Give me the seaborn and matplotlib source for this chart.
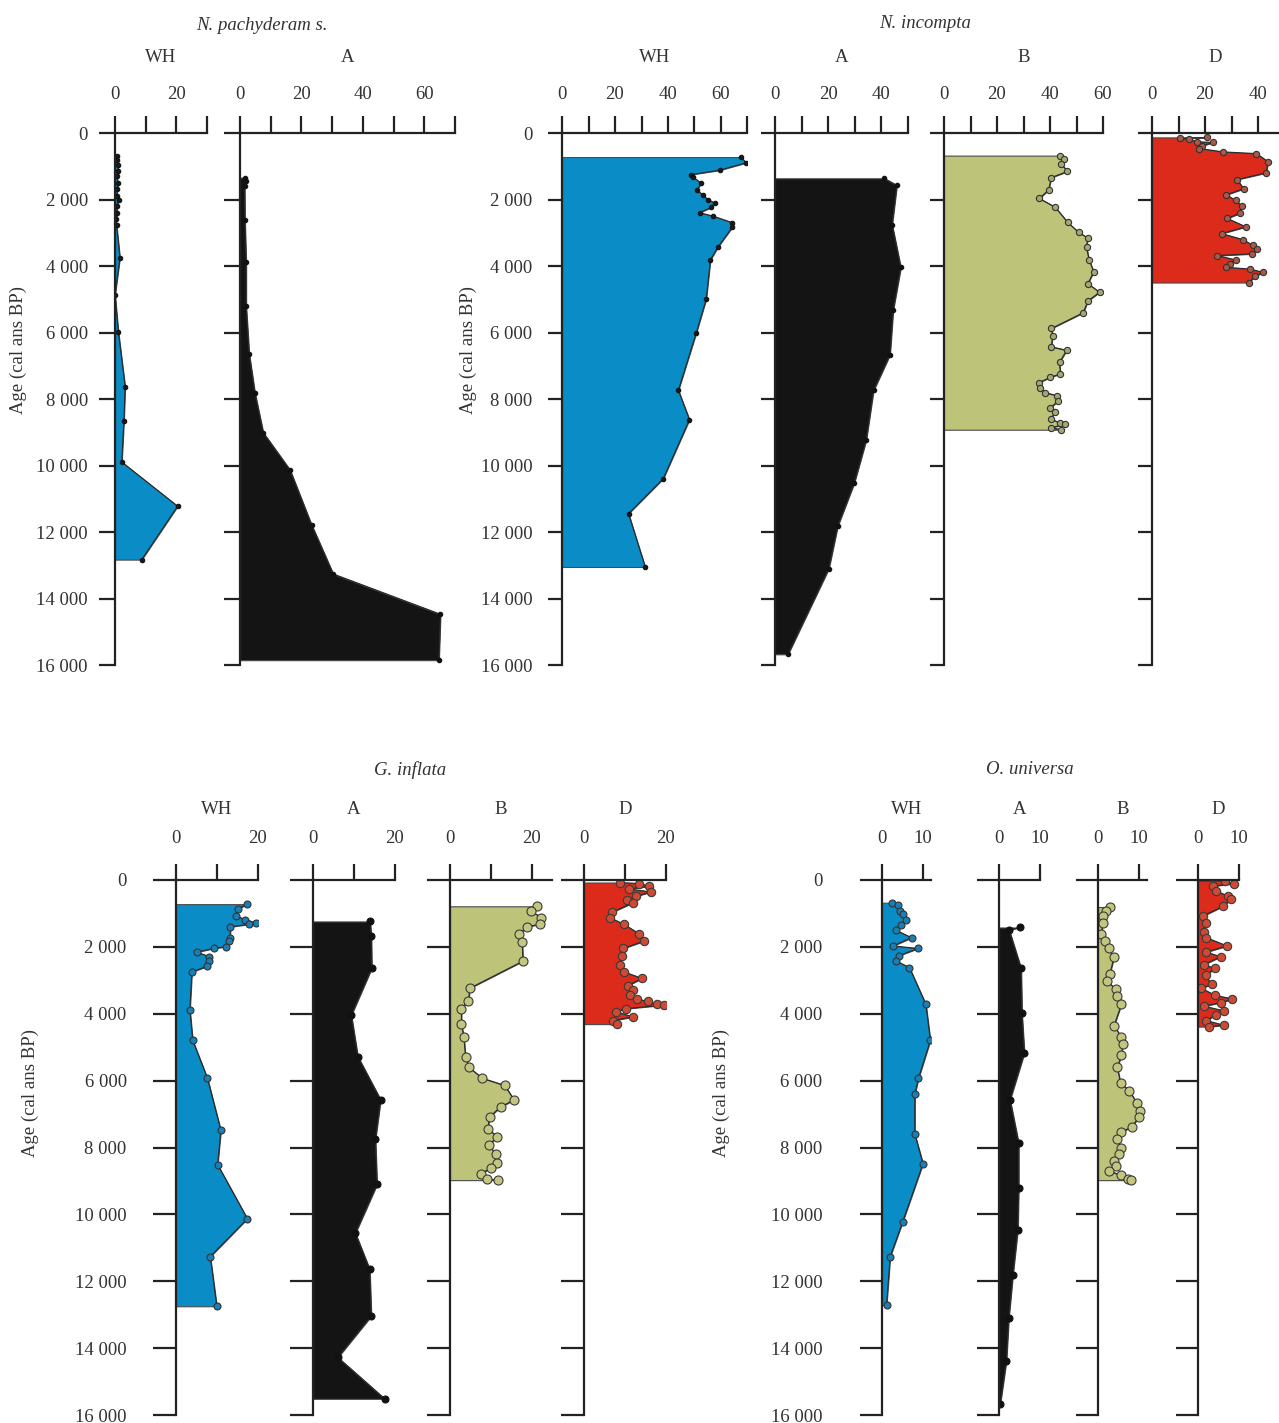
import numpy as np
import matplotlib.pyplot as plt
import seaborn as sns

# ===============================
# DATA (age in cal yr BP, abundance %)
# ===============================
# N. pachyderam s.
pach_wh_age = [684, 810, 975, 1145, 1300, 1500, 1690, 1885, 2030, 2210, 2405, 2600, 2763,
               3750, 4868, 5987, 7632, 8658, 9895, 11224, 12830]
pach_wh_val = [0.5, 0.8, 1.0, 1.0, 0.5, 1.0, 0.8, 0.5, 1.2, 0.5, 0.8, 0.3, 0.5,
               1.6, 0.0, 1.1, 3.3, 2.9, 2.2, 20.4, 8.7]
pach_a_age = [1342, 1447, 1579, 2630, 3880, 5200, 6645, 7830, 9013, 10130, 11776, 13263, 14474, 15855]
pach_a_val = [1.6, 1.8, 1.5, 1.6, 2.0, 2.0, 3.0, 4.9, 7.6, 16.3, 23.3, 30.4, 65.3, 64.8]

# N. incompta
inc_wh_age = [724, 895, 1118, 1250, 1316, 1513, 1710, 1868, 2000, 2105, 2237, 2395, 2500, 2697,
              2829, 3421, 3816, 5000, 6026, 7737, 8618, 10395, 11447, 13052]
inc_wh_val = [67.5, 69.5, 59.5, 48.7, 49.4, 52.5, 50.9, 53.2, 55.0, 57.6, 56.3, 51.9, 57.0, 64.3,
              64.3, 58.9, 56.0, 54.4, 50.6, 43.9, 48.1, 38.2, 25.1, 31.4]
inc_a_age = [1362, 1576, 2756, 4043, 5330, 6670, 7743, 9244, 10531, 11818, 13105, 15678]
inc_a_val = [41.2, 46.0, 44.2, 47.5, 44.6, 43.4, 37.2, 34.4, 29.9, 23.7, 20.3, 4.9]
inc_b_age = [680, 787, 919, 1155, 1339, 1706, 1969, 2231, 2690, 2992, 3150, 3438, 3806, 4173,
             4527, 4790, 5052, 5407, 5879, 6102, 6430, 6535, 6890, 7244, 7349, 7507, 7677,
             7808, 7900, 8071, 8268, 8399, 8596, 8727, 8766, 8858, 8924]
inc_b_val = [43.9, 45.1, 44.2, 46.6, 40.5, 39.5, 36.0, 42.0, 46.7, 50.9, 54.2, 53.8, 54.7, 56.5,
             54.3, 58.7, 54.3, 52.5, 40.5, 41.0, 40.5, 46.3, 43.6, 43.9, 40.1, 35.8, 36.4,
             38.3, 42.6, 42.9, 40.1, 42.0, 40.2, 43.9, 45.7, 40.5, 44.0]
inc_d_age = [132, 162, 183, 264, 284, 386, 467, 569, 619, 863, 1198, 1401, 1675, 1858, 2030,
             2193, 2416, 2569, 2822, 3025, 3208, 3381, 3482, 3635, 3685, 3817, 3939, 4041,
             4092, 4193, 4315, 4497]
inc_d_val = [20.9, 10.6, 14.1, 16.9, 23.1, 18.8, 17.9, 26.9, 39.4, 43.8, 43.1, 32.1, 34.6, 28.1,
             31.6, 33.8, 33.1, 28.4, 35.4, 26.3, 34.4, 38.1, 39.8, 37.9, 24.6, 31.6, 29.4,
             28.1, 37.1, 41.9, 38.8, 36.6]

# G. inflata
inf_wh_age = [722, 862, 1078, 1185, 1293, 1325, 1400, 1724, 1832, 1990, 2047, 2155, 2295, 2425,
              2586, 2748, 3879, 4795, 5927, 7489, 8513, 10129, 11261, 12748]
inf_wh_val = [17.4, 15.3, 14.8, 17.0, 19.7, 17.8, 13.3, 13.3, 12.9, 12.3, 9.2, 5.1, 8.2, 8.0,
              7.5, 3.9, 3.4, 4.1, 7.7, 11.0, 10.2, 17.5, 8.4, 10.0]
inf_a_age = [1239, 1670, 2640, 4041, 5280, 6573, 7759, 9106, 10560, 11638, 13039, 14278, 15517]
inf_a_val = [14.0, 14.3, 14.4, 9.4, 11.0, 16.6, 15.3, 15.7, 10.4, 13.9, 14.3, 6.1, 17.6]
inf_b_age = [787, 916, 1131, 1325, 1400, 1616, 1864, 2425, 3233, 3610, 3847, 4310, 4688, 5280,
             5603, 5927, 6142, 6573, 6789, 7080, 7435, 7683, 7920, 8190, 8459, 8621, 8782,
             8944, 8976]
inf_b_val = [21.4, 19.8, 22.4, 22.0, 18.8, 17.0, 17.7, 17.9, 4.9, 4.5, 2.8, 2.8, 3.4, 3.8,
             4.7, 7.9, 13.4, 15.7, 12.4, 9.7, 9.3, 11.6, 9.5, 11.2, 11.6, 10.0, 7.5,
             9.1, 11.8]
inf_d_age = [75, 108, 183, 269, 356, 485, 593, 679, 970, 1131, 1325, 1616, 1832, 2047, 2263,
             2532, 2748, 2942, 3157, 3287, 3448, 3556, 3631, 3718, 3739, 3847, 3933, 4095,
             4203, 4310]
inf_d_val = [8.8, 13.6, 16.0, 11.0, 16.4, 12.8, 10.6, 12.0, 6.8, 6.4, 9.8, 13.6, 14.6, 9.6, 9.2,
             8.8, 9.8, 14.2, 10.8, 12.0, 11.2, 13.0, 15.6, 17.8, 19.6, 10.4, 7.8, 12.0,
             7.0, 8.2]

# O. universa
uni_wh_age = [679, 754, 916, 1024, 1185, 1347, 1509, 1724, 1972, 2047, 2263, 2425, 2619, 3718,
              4795, 5927, 6412, 7597, 8481, 10237, 11261, 12716]
uni_wh_val = [2.5, 3.9, 4.5, 5.0, 5.8, 4.7, 3.5, 7.2, 2.7, 8.8, 4.1, 3.5, 6.7, 10.7,
              11.8, 8.9, 8.0, 8.0, 10.0, 5.0, 2.0, 1.1]
uni_a_age = [1420, 1500, 2640, 3987, 5172, 6573, 7866, 9213, 10453, 11800, 13093, 14386, 15679]
uni_a_val = [5.0, 2.5, 5.4, 5.6, 6.2, 2.7, 4.8, 4.8, 4.6, 3.4, 2.4, 1.8, 0.3]
uni_b_age = [808, 916, 1078, 1293, 1616, 1832, 2047, 2317, 2802, 3018, 3265, 3481, 3718, 4364,
             4688, 4903, 5248, 5603, 6067, 6304, 6681, 6897, 7080, 7381, 7543, 7759, 8028,
             8190, 8405, 8567, 8696, 8836, 8944, 8976]
uni_b_val = [2.9, 1.9, 1.1, 1.2, 0.8, 1.6, 2.7, 3.9, 2.9, 2.2, 4.3, 4.7, 5.7, 3.9,
             5.7, 6.1, 5.7, 4.7, 5.5, 7.6, 9.6, 10.2, 10.1, 8.2, 5.7, 4.7, 5.7,
             5.2, 3.9, 4.3, 2.7, 5.7, 7.4, 8.0]
uni_d_age = [32, 108, 183, 323, 485, 571, 787, 1078, 1293, 1562, 1724, 1972, 2155, 2295, 2532,
             2640, 2856, 3125, 3233, 3448, 3556, 3664, 3772, 3912, 4041, 4203, 4343, 4385]
uni_d_val = [6.5, 8.7, 3.7, 4.5, 7.3, 8.1, 6.1, 1.2, 2.0, 1.4, 2.0, 7.1, 2.0, 5.5, 1.4,
             4.1, 1.9, 3.3, 0.8, 4.1, 8.4, 5.7, 1.4, 6.3, 4.3, 2.0, 6.3, 2.7]

age_ticks = list(range(0, 16001, 2000))

# ===============================
# STYLE
# ===============================
sns.set_style("ticks")
plt.rcParams["font.family"] = ["Liberation Serif", "DejaVu Serif"]
TXT = "#333333"
AX = "#222222"
FS = 13.5

FILL = {"WH": "#0a8cc6", "A": "#141414", "B": "#bec37a", "D": "#dc2a1b"}
MARK_TOP = {
    "WH": dict(markersize=3.2, markerfacecolor="#1a1a1a", markeredgecolor="#111111"),
    "A": dict(markersize=3.2, markerfacecolor="#111111", markeredgecolor="#111111"),
    "B": dict(markersize=4.5, markerfacecolor="#a4a873", markeredgecolor="#333333"),
    "D": dict(markersize=4.5, markerfacecolor="#a65a48", markeredgecolor="#333333"),
}
MARK_BOT = {
    "WH": dict(markersize=5, markerfacecolor="#1a7fb5", markeredgecolor="#333333"),
    "A": dict(markersize=5, markerfacecolor="#111111", markeredgecolor="#111111"),
    "B": dict(markersize=6.5, markerfacecolor="#c2c67f", markeredgecolor="#3a3a3a"),
    "D": dict(markersize=6, markerfacecolor="#cf4a33", markeredgecolor="#3a3a3a"),
}

# layout in pixels: (panel name, x of zero line, x max, ages, values)
groups = [
    dict(title="N. pachyderam s.", title_xy=(262, 25), name_y=58, ylab_xy=(18, 350),
         top=133, bottom=665, ppu=3.07, step=20, marks=MARK_TOP,
         xlen=12, xpad=9.5, ylen=11.5, ypad=8,
         panels=[("WH", 115, 30, pach_wh_age, pach_wh_val),
                 ("A", 240, 70, pach_a_age, pach_a_val)]),
    dict(title="N. incompta", title_xy=(925, 23), name_y=58, ylab_xy=(468, 350),
         top=133, bottom=665, ppu=2.65, step=20, marks=MARK_TOP,
         xlen=12, xpad=9.5, ylen=10, ypad=11.5,
         panels=[("WH", 562, 70, inc_wh_age, inc_wh_val),
                 ("A", 775, 50, inc_a_age, inc_a_val),
                 ("B", 944, 60, inc_b_age, inc_b_val),
                 ("D", 1152, 48, inc_d_age, inc_d_val)]),
    dict(title="G. inflata", title_xy=(410, 770), name_y=810, ylab_xy=(30, 1093),
         top=880, bottom=1415, ppu=4.08, step=20, marks=MARK_BOT,
         xlen=11.5, xpad=12, ylen=16.5, ypad=19,
         panels=[("WH", 176, 20, inf_wh_age, inf_wh_val),
                 ("A", 313, 20, inf_a_age, inf_a_val),
                 ("B", 450, 25, inf_b_age, inf_b_val),
                 ("D", 584, 20, inf_d_age, inf_d_val)]),
    dict(title="O. universa", title_xy=(1030, 770), name_y=810, ylab_xy=(721, 1093),
         top=880, bottom=1415, ppu=4.1, step=10, marks=MARK_BOT,
         xlen=11.5, xpad=12, ylen=16, ypad=27,
         panels=[("WH", 882, 12, uni_wh_age, uni_wh_val),
                 ("A", 999, 10, uni_a_age, uni_a_val),
                 ("B", 1098, 12, uni_b_age, uni_b_val),
                 ("D", 1198, 10, uni_d_age, uni_d_val)]),
]

W, H = 1279, 1423
fig = plt.figure(figsize=(W / 100, H / 100), dpi=100)

# ===============================
# DRAW PANELS
# ===============================
for g in groups:
    for i, (name, x0, xmax, ages, vals) in enumerate(g["panels"]):
        w = xmax * g["ppu"]
        ax = fig.add_axes([x0 / W, 1 - g["bottom"] / H, w / W, (g["bottom"] - g["top"]) / H])
        ax.set_facecolor("none")

        ax.fill_betweenx(ages, 0, vals, facecolor=FILL[name], edgecolor="#4a4a4a",
                         linewidth=0.8, zorder=1)
        sns.lineplot(x=vals, y=ages, orient="y", sort=False, estimator=None, ax=ax,
                     color="#2a2a2a", linewidth=0.8, marker="o", markeredgewidth=0.8,
                     zorder=2, **g["marks"][name])

        ax.set_xlim(0, xmax)
        ax.set_ylim(16000, 0)
        ax.set_xlabel("")
        ax.set_ylabel("")
        for s in ["right", "bottom"]:
            ax.spines[s].set_visible(False)
        for s in ["left", "top"]:
            ax.spines[s].set_linewidth(1.6)
            ax.spines[s].set_color(AX)

        xt = np.arange(0, xmax + 1e-9, 10)
        ax.xaxis.set_ticks_position("top")
        ax.set_xticks(xt)
        ax.set_xticklabels([f"{t:.0f}" if t % g["step"] == 0 else "" for t in xt])
        ax.tick_params(axis="x", direction="out", length=g["xlen"], width=1.6, color=AX,
                       pad=g["xpad"], labelsize=FS, labelcolor=TXT)

        ax.set_yticks(age_ticks)
        if i == 0:
            ax.set_yticklabels([f"{t:,}".replace(",", " ") for t in age_ticks])
        else:
            ax.set_yticklabels([])
        ax.tick_params(axis="y", direction="out", length=g["ylen"], width=1.6, color=AX,
                       pad=g["ypad"], labelsize=FS, labelcolor=TXT)

        cx = (x0 + w / 2) / W
        fig.text(cx, 1 - g["name_y"] / H, name, ha="center", va="center",
                 fontsize=FS, color=TXT)

    tx, ty = g["title_xy"]
    fig.text(tx / W, 1 - ty / H, g["title"], ha="center", va="center",
             fontsize=FS, style="italic", color=TXT)
    lx, ly = g["ylab_xy"]
    fig.text(lx / W, 1 - ly / H, "Age (cal ans BP)", rotation=90, ha="center",
             va="center", fontsize=FS, color=TXT)

fig.savefig("out.png", dpi=100, facecolor="white")
